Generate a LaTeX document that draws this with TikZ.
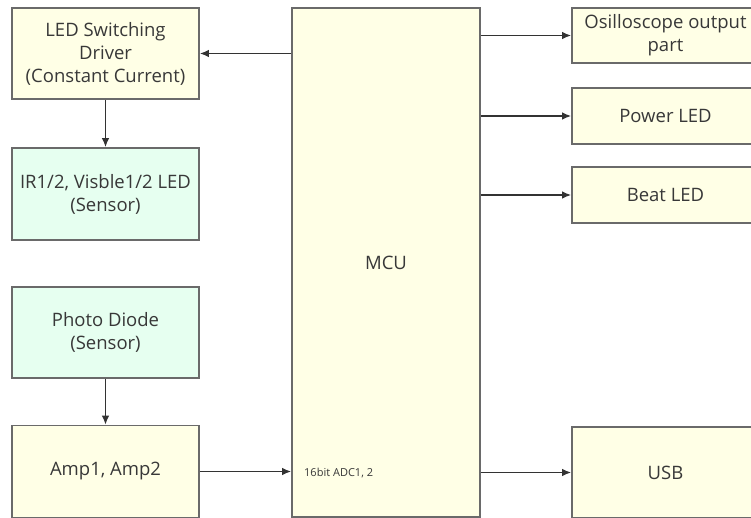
\documentclass[tikz,border=0pt]{standalone}
\usepackage{fontspec}
\setmainfont{Open Sans}
\usetikzlibrary{arrows.meta}
\definecolor{cream}{HTML}{FFFFE6}
\definecolor{mint}{HTML}{E6FFF0}
\definecolor{edge}{HTML}{6A6A6A}
\definecolor{txt}{HTML}{383838}
\tikzset{
  blk/.style={draw=edge, line width=1.8pt, align=center, inner sep=0pt,
    text=txt, font=\fontsize{18.5}{23}\selectfont},
  yel/.style={blk, fill=cream},
  grn/.style={blk, fill=mint},
  conn/.style={draw=black!80, line width=1.3pt, -{Latex[length=9pt,width=7.5pt]}}
}
\begin{document}
\begin{tikzpicture}[x=1pt,y=-1pt]
\useasboundingbox (0,0) rectangle (751,518);
\fill[white] (0,0) rectangle (751,518);
\node[yel, minimum width=187pt, minimum height=91pt] (drv) at (105.5,53.5) {LED Switching\\Driver\\(Constant Current)};
\node[grn, minimum width=187pt, minimum height=92pt] (ir) at (105.5,194) {IR1/2, Visble1/2 LED\\(Sensor)};
\node[grn, minimum width=187pt, minimum height=91pt] (pd) at (105.5,332.5) {Photo Diode\\(Sensor)};
\node[yel, minimum width=187pt, minimum height=92pt] (amp) at (105.5,471.5) {Amp1, Amp2};
\node[yel, minimum width=188pt, minimum height=509pt] (mcu) at (386,262.5) {MCU};
\node[anchor=west, text=txt, font=\fontsize{11}{13}\selectfont, inner sep=0pt] (adc) at (304,473) {16bit ADC1, 2};
\node[yel, minimum width=187pt, minimum height=55pt] (osc) at (665.5,35.5) {Osilloscope output\\part};
\node[yel, minimum width=187pt, minimum height=56pt] (pwr) at (665.5,116) {Power LED};
\node[yel, minimum width=187pt, minimum height=56pt] (beat) at (665.5,195) {Beat LED};
\node[yel, minimum width=187pt, minimum height=91pt] (usb) at (665.5,472.5) {USB};
\draw[conn] (mcu.west |- drv.east) -- (drv.east);
\draw[conn] (drv.south) -- (ir.north);
\draw[conn] (pd.south) -- (amp.north);
\draw[conn] (amp.east) -- (mcu.west |- amp.east);
\draw[conn] (mcu.east |- osc.west) -- (osc.west);
\draw[conn] (mcu.east |- pwr.west) -- (pwr.west);
\draw[conn] (mcu.east |- beat.west) -- (beat.west);
\draw[conn] (mcu.east |- usb.west) -- (usb.west);
\end{tikzpicture}
\end{document}
